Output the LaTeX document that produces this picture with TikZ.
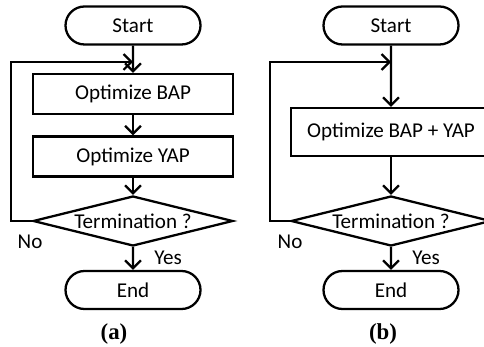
\documentclass[tikz,border=0pt]{standalone}
\usepackage{fontspec}
\setmainfont{Carlito}
\newfontfamily\captionfont{Liberation Serif}
\usetikzlibrary{shapes.geometric}
\usetikzlibrary{shapes.misc}
\usetikzlibrary{positioning}
\usetikzlibrary{arrows.meta}

\begin{document}
\begin{tikzpicture}[
    font=\fontsize{12}{14}\selectfont,
    line width=1.3pt,
    terminal/.style={draw, rounded rectangle, minimum width=2.7cm, minimum height=0.76cm, inner sep=0pt},
    process/.style={draw, rectangle, minimum width=4cm, minimum height=0.8cm, inner sep=0pt},
    decision/.style={draw, diamond, aspect=4, minimum width=4cm, minimum height=1cm, inner sep=0pt},
    flowarrow/.style={-{Straight Barb[length=4.5pt,width=9pt]}},
    caption/.style={font=\captionfont\bfseries\fontsize{13}{15}\selectfont}]
            \useasboundingbox (0,0) rectangle (9.68,-6.94);

            % (a) two separate steps
            \node[terminal] (startA) at (2.66,-0.51) {Start};
            \node[process] (optA1) at (2.66,-1.88) {Optimize BAP};
            \node[process] (optA2) at (2.66,-3.13) {Optimize YAP};
            \node[decision] (termA) at (2.66,-4.42) {Termination ?};
            \node[terminal] (endA) at (2.66,-5.80) {End};
            \node (noA) at (0.60,-4.84) {No};
            \node (yesA) at (3.36,-5.16) {Yes};
            \node[caption] (capA) at (2.28,-6.68) {(a)};
            \coordinate (cornerA) at (0.22,-4.42);
            \coordinate (joinA) at (2.66,-1.24);

            \draw[flowarrow] (startA) -- (optA1);
            \draw[flowarrow] (optA1) -- (optA2);
            \draw[flowarrow] (optA2) -- (termA);
            \draw[flowarrow] (termA) -- (endA);
            \draw[flowarrow] (termA.west) -- (cornerA) |- (joinA);

            % (b) joint step
            \node[terminal] (startB) at (7.82,-0.51) {Start};
            \node[process, minimum height=0.96cm] (optB) at (7.82,-2.64) {Optimize BAP + YAP};
            \node[decision] (termB) at (7.82,-4.42) {Termination ?};
            \node[terminal] (endB) at (7.82,-5.80) {End};
            \node (noB) at (5.80,-4.84) {No};
            \node (yesB) at (8.52,-5.16) {Yes};
            \node[caption] (capB) at (7.66,-6.68) {(b)};
            \coordinate (cornerB) at (5.40,-4.42);
            \coordinate (joinB) at (7.82,-1.24);

            \draw[flowarrow] (startB) -- (optB);
            \draw[flowarrow] (optB) -- (termB);
            \draw[flowarrow] (termB) -- (endB);
            \draw[flowarrow] (termB.west) -- (cornerB) |- (joinB);
        \end{tikzpicture}
\end{document}
